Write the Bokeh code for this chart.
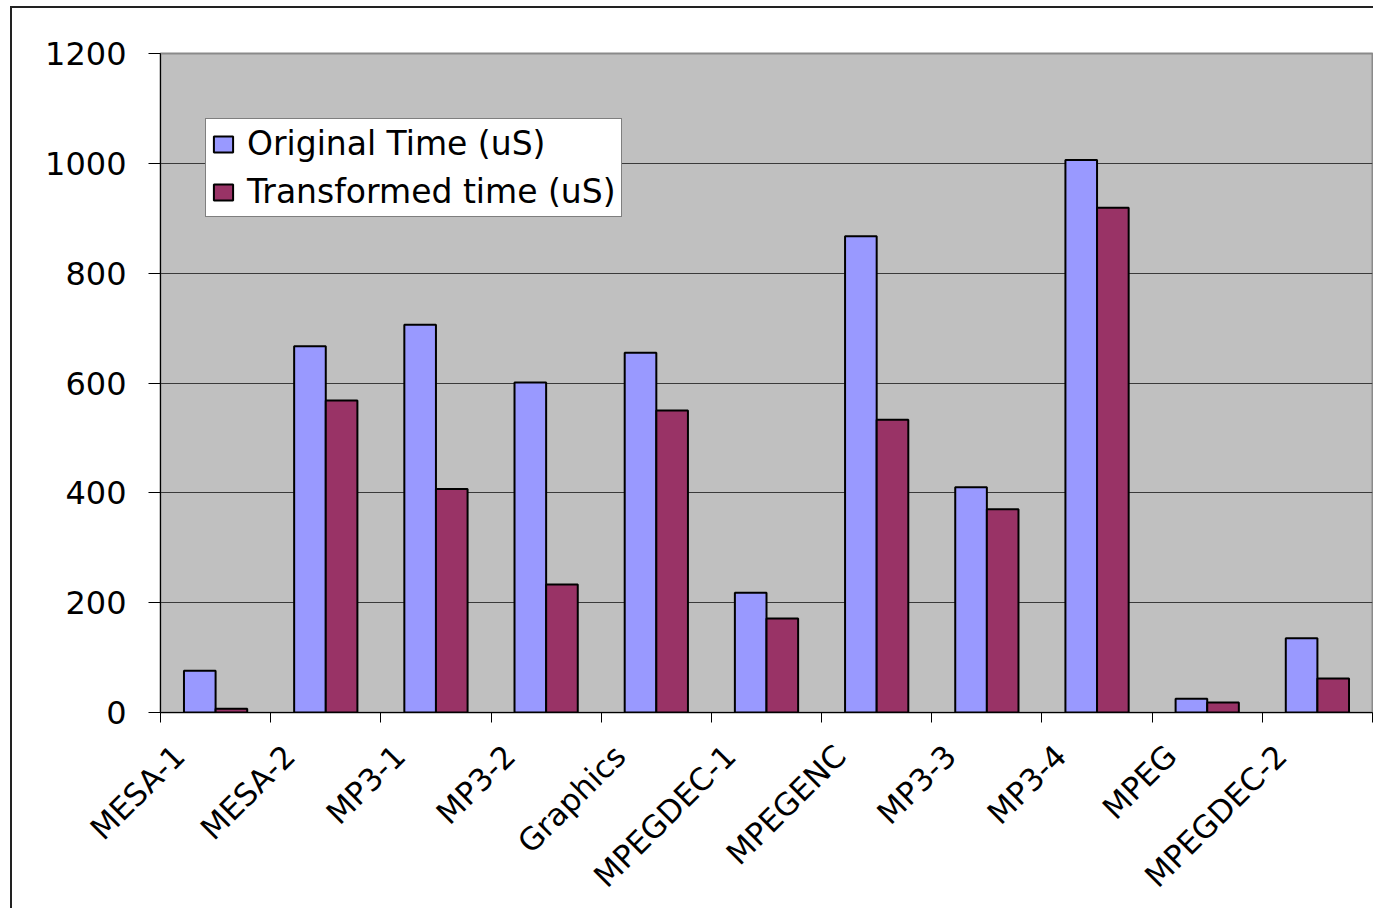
import numpy as np
from math import pi
from bokeh.plotting import figure
from bokeh.models import (Range1d, FixedTicker, Legend, LegendItem,
                          ColumnDataSource)
from bokeh.embed import file_html
from bokeh.resources import INLINE

categories = ["MESA-1", "MESA-2", "MP3-1", "MP3-2", "Graphics", "MPEGDEC-1",
              "MPEGENC", "MP3-3", "MP3-4", "MPEG", "MPEGDEC-2"]
original_time = [76, 667, 706, 601, 655, 218, 867, 410, 1006, 25, 135]
transformed_time = [7, 568, 407, 233, 550, 171, 533, 370, 919, 18, 62]
y_ticks = [0, 200, 400, 600, 800, 1000, 1200]
series_names = ["Original Time (uS)", "Transformed time (uS)"]

FONT = "DejaVu Sans"
n = len(categories)
idx = np.arange(n)
centers = idx + 0.5
bar_w = 0.287
label_shift = 0.33   # rotated labels end a little left of the category centre

src = ColumnDataSource(dict(
    x_orig=centers - bar_w / 2,
    x_trans=centers + bar_w / 2,
    orig=original_time,
    trans=transformed_time,
))

p = figure(width=1363, height=902,
           x_range=Range1d(0, n), y_range=Range1d(0, 1200),
           output_backend="svg", toolbar_location=None,
           min_border_left=148, min_border_top=45,
           min_border_right=3, min_border_bottom=198,
           background_fill_color="#C0C0C0", border_fill_color="white",
           outline_line_color="#8a8a8a", outline_line_width=2)
p.styles = {"margin-top": "6px", "margin-left": "10px",
            "border-top": "2px solid #222222", "border-left": "2px solid #222222"}

# y axis
ya = p.yaxis[0]
ya.ticker = FixedTicker(ticks=y_ticks)
ya.major_tick_out = 12
ya.major_tick_in = 0
ya.minor_tick_out = 0
ya.minor_tick_in = 0
ya.major_label_standoff = 22
ya.major_label_text_font = FONT
ya.major_label_text_font_size = "32px"
ya.major_label_text_color = "black"
ya.axis_line_color = "black"
ya.major_tick_line_color = "black"

# x axis: tick marks at category boundaries, rotated labels near centres
label_pos = [round(float(c - label_shift), 4) for c in centers]
xa = p.xaxis[0]
xa.ticker = FixedTicker(ticks=label_pos, minor_ticks=list(range(n + 1)))
xa.major_label_overrides = {pos: cat for pos, cat in zip(label_pos, categories)}
xa.major_label_orientation = pi / 4
xa.major_label_standoff = 28
xa.major_label_text_font = FONT
xa.major_label_text_font_size = "31px"
xa.major_label_text_color = "black"
xa.major_tick_out = 0
xa.major_tick_in = 0
xa.minor_tick_out = 10
xa.minor_tick_in = 0
xa.minor_tick_line_color = "black"
xa.axis_line_color = "black"

p.xgrid.visible = False
p.ygrid.ticker = FixedTicker(ticks=y_ticks)
p.ygrid.grid_line_color = "#3a3a3a"
p.ygrid.grid_line_width = 1

r1 = p.vbar(x="x_orig", top="orig", bottom=0, width=bar_w, source=src,
            fill_color="#9999FF", line_color="black", line_width=2)
r2 = p.vbar(x="x_trans", top="trans", bottom=0, width=bar_w, source=src,
            fill_color="#993366", line_color="black", line_width=2)

legend = Legend(items=[LegendItem(label=series_names[0], renderers=[r1]),
                       LegendItem(label=series_names[1], renderers=[r2])],
                location=(45, 495), orientation="vertical",
                label_text_font=FONT, label_text_font_size="33px",
                label_text_color="black",
                glyph_width=24, glyph_height=20, label_height=36,
                label_standoff=12, padding=5, spacing=9, margin=0,
                border_line_color="black", border_line_width=1,
                background_fill_color="white", background_fill_alpha=1.0)
p.add_layout(legend)

open("out.html", "w").write(file_html(p, INLINE))
